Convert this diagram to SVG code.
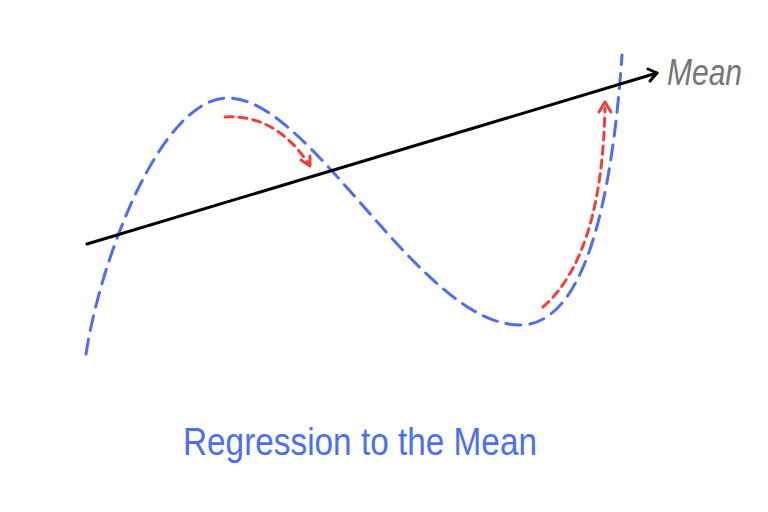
<svg xmlns="http://www.w3.org/2000/svg" width="768" height="512" viewBox="0 0 768 512">
<style>
.blue{fill:none;stroke:#4c6ef5;stroke-width:3;stroke-dasharray:15 9;stroke-linecap:round}
.red{fill:none;stroke:#f03e3e;stroke-width:3;stroke-dasharray:8 6;stroke-linecap:round}
.redh{fill:none;stroke:#f03e3e;stroke-width:3;stroke-linecap:round;stroke-linejoin:round}
.blk{fill:none;stroke:#000;stroke-width:3;stroke-linecap:round;stroke-linejoin:round}
text{font-family:"Liberation Sans","Noto Sans",sans-serif}
</style>
<rect width="768" height="512" fill="#fff"/>
<g id="connectors">
<path class="blue" d="M86 354 C100 262 160 98 228 98 C312 98 420 325 520 325 C585 325 612 200 622 55"/>
<path class="blk" d="M87 244 L657 73"/>
<path class="blk" d="M648 69 L657 73 L650 81"/>
<path class="red" d="M225 117 Q275 114 308 163"/>
<path class="redh" d="M301 160 L310 166 L310 156"/>
<path class="red" d="M543 307 C585 270 603 200 605 108"/>
<path class="redh" d="M599 112 L605 102 L611 112"/>
</g>
<g id="mean-label">
<text x="667" y="85" font-size="36" fill="#757575" font-style="italic" textLength="75" lengthAdjust="spacingAndGlyphs">Mean</text>
</g>
<g id="title">
<text x="183" y="455" font-size="39" fill="#4c6ef5" textLength="354" lengthAdjust="spacingAndGlyphs">Regression to the Mean</text>
</g>
</svg>
